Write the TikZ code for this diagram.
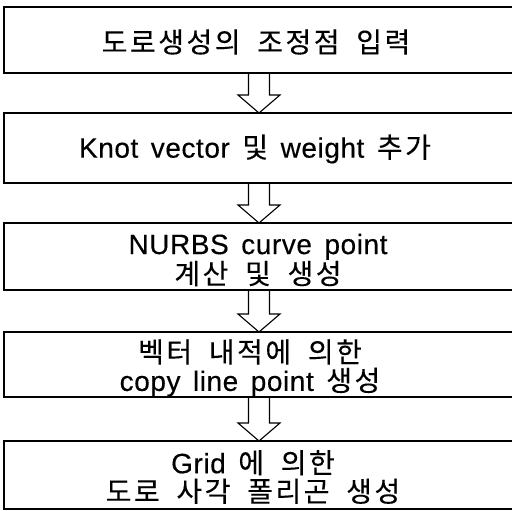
\documentclass[tikz,border=0pt]{standalone}
\usepackage{fontspec}
\setmainfont{Liberation Sans}[LetterSpace=2, WordSpace=1.5, FakeBold=0.3]
\newfontfamily\kr{Noto Sans CJK KR}[LetterSpace=9, WordSpace=1.9, Scale=1.0, FakeBold=0.2]
\usetikzlibrary{calc}
\tikzset{
  stepbox/.style={draw=black, line width=1.1bp, rectangle, inner sep=0pt, outer sep=0pt, minimum width=526bp},
  steptext/.style={align=center, inner sep=0pt, font=\fontsize{28bp}{28.5bp}\selectfont},
  hollowarrow/.style={draw=black, line width=1.1bp, line join=miter}
}
\newcommand\hg[1]{{\kr #1}}
% hollow block arrow from the bottom of box #1 to the top of box #2
\newcommand\flowarrow[2]{%
  \coordinate (tipA) at (ax |- #2.north);
  \draw[hollowarrow] ([xshift=-10.5bp]ax |- #1.south)
    -- ([xshift=-10.5bp,yshift=18bp]tipA)
    -- ([xshift=-21bp,yshift=18bp]tipA)
    -- (tipA)
    -- ([xshift=21bp,yshift=18bp]tipA)
    -- ([xshift=10.5bp,yshift=18bp]tipA)
    -- ([xshift=10.5bp]ax |- #1.south);}
\begin{document}
\begin{tikzpicture}[x=1bp, y=-1bp]
  \useasboundingbox (0,0) rectangle (512,511);
  \clip (0,0) rectangle (512,511);
  \coordinate (ax) at (259,0);

  \node[stepbox, minimum height=66bp] (b1) at (267,40) {};
  \node[stepbox, minimum height=70bp] (b2) at (267,148) {};
  \node[stepbox, minimum height=67bp] (b3) at (267,256.5) {};
  \node[stepbox, minimum height=65bp] (b4) at (267,364.5) {};
  \node[stepbox, minimum height=68bp] (b5) at (267,475) {};

  \node[steptext] (t1) at (256,42) {\hg{도로생성의 조정점 입력}};
  \node[steptext] (t2) at (255,149) {Knot vector \hg{및} weight \hg{추가}};
  \node[steptext] (t3) at (258,260) {NURBS curve point\\\hg{계산 및 생성}};
  \node[steptext] (t4) at (250,368) {\hg{벡터 내적에 의한}\\copy line point \hg{생성}};
  \node[steptext] (t5) at (253,477) {Grid \hg{에 의한}\\\hg{도로 사각 폴리곤 생성}};

  \flowarrow{b1}{b2}
  \flowarrow{b2}{b3}
  \flowarrow{b3}{b4}
  \flowarrow{b4}{b5}
\end{tikzpicture}
\end{document}
